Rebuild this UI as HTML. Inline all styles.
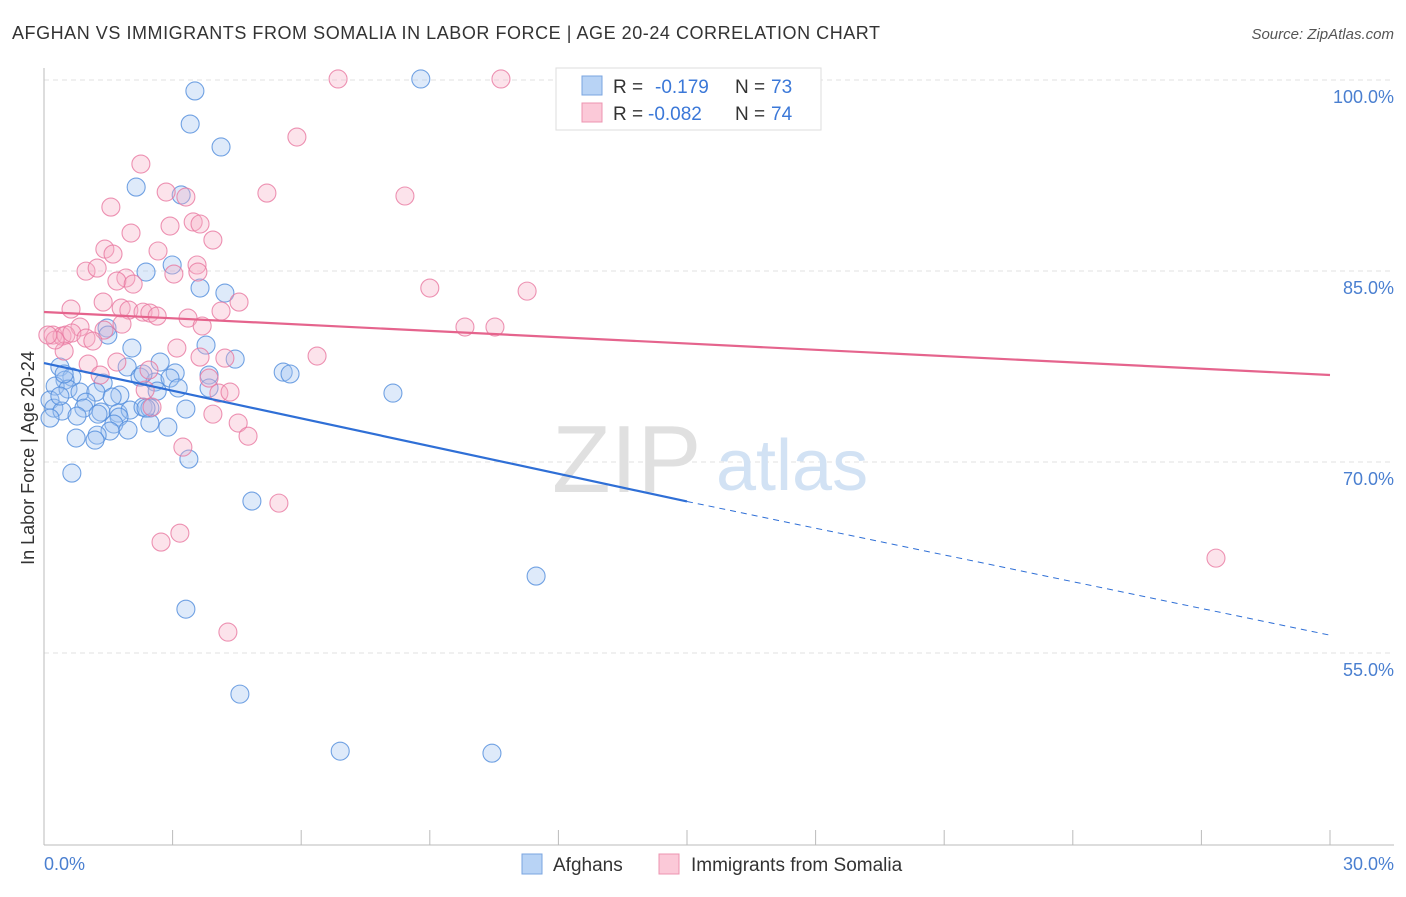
<!DOCTYPE html>
<html><head><meta charset="utf-8"><style>
body{margin:0;background:#fff;font-family:"Liberation Sans",sans-serif}
svg text{font-family:"Liberation Sans",sans-serif}
</style></head><body>
<svg id="chart" width="1406" height="892" viewBox="0 0 1406 892" xmlns="http://www.w3.org/2000/svg">
<text x="12" y="39" font-size="18" fill="#333" textLength="868">AFGHAN VS IMMIGRANTS FROM SOMALIA IN LABOR FORCE | AGE 20-24 CORRELATION CHART</text>
<text x="1394" y="39" font-size="15" fill="#555" text-anchor="end" font-style="italic">Source: ZipAtlas.com</text>
<g id="grid"></g>
<g>
<text x="552" y="492" font-size="96" font-family="Liberation Serif" fill="#e0e0e0">ZIP</text>
<text x="716" y="490" font-size="72" fill="#d2e2f4">atlas</text>
</g>
<line x1="44" y1="68" x2="44" y2="845" stroke="#bbb"/>
<line x1="44" y1="845" x2="1394" y2="845" stroke="#bbb"/>
<g id="ticks"></g>
<text transform="translate(34,458) rotate(-90)" font-size="18" fill="#333" text-anchor="middle">In Labor Force | Age 20-24</text>
<text x="44" y="870" font-size="18" fill="#4a7fd0">0.0%</text>
<text x="1394" y="870" font-size="18" fill="#4a7fd0" text-anchor="end">30.0%</text>
<g id="pts"></g>
<g id="lines"></g>
<g>
<rect x="556" y="68" width="265" height="62" fill="#fff" stroke="#ddd"/>
<rect x="582" y="76" width="20" height="19" fill="#b8d3f5" stroke="#7aa5e0"/>
<rect x="582" y="103" width="20" height="19" fill="#fbc9d8" stroke="#ec94b0"/>
<text x="613" y="93" font-size="19" fill="#333">R = </text><text x="655" y="93" font-size="19" fill="#3b78d8">-0.179</text>
<text x="735" y="93" font-size="19" fill="#333">N = </text><text x="771" y="93" font-size="19" fill="#3b78d8">73</text>
<text x="613" y="120" font-size="19" fill="#333">R = </text><text x="648" y="120" font-size="19" fill="#3b78d8">-0.082</text>
<text x="735" y="120" font-size="19" fill="#333">N = </text><text x="771" y="120" font-size="19" fill="#3b78d8">74</text>
</g>
<g>
<rect x="522" y="854" width="20" height="20" fill="#b8d3f5" stroke="#7aa5e0"/>
<text x="553" y="871" font-size="19" fill="#333">Afghans</text>
<rect x="659" y="854" width="20" height="20" fill="#fbc9d8" stroke="#ec94b0"/>
<text x="691" y="871" font-size="19" fill="#333">Immigrants from Somalia</text>
</g>
</svg>
<script>
const yTicks=[100,85,70,55];
const yTickLabels=["100.0%","85.0%","70.0%","55.0%"];
const xTicks=[3,6,9,12,15,18,21,24,27,30];
const afghanX=[3.52,3.41,4.13,2.15,3.20,2.99,2.38,3.64,4.22,1.47,1.49,3.78,2.05,4.46,2.71,0.37,1.94,3.06,3.85,5.58,5.74,0.65,0.49,1.38,2.24,2.59,2.94,0.26,0.56,0.84,1.21,1.77,2.64,3.13,3.85,8.14,0.14,0.98,1.59,0.23,0.42,0.93,1.33,1.73,2.01,2.31,2.47,0.77,1.26,1.75,0.14,2.47,2.89,1.63,1.96,1.54,1.24,0.75,1.19,3.38,0.65,4.85,11.48,3.31,4.57,6.91,10.45,8.79,0.47,0.37,2.31,2.38,3.31];
const afghanY=[99.14,96.54,94.74,91.59,90.97,85.47,84.92,83.66,83.27,80.52,79.97,79.18,78.95,78.08,77.85,77.46,77.46,76.99,76.83,77.06,76.91,76.67,76.43,76.20,76.67,76.28,76.59,75.96,75.73,75.49,75.49,75.26,75.57,75.81,75.81,75.41,74.86,74.70,75.10,74.23,74.00,74.23,73.92,73.84,74.08,74.31,74.23,73.61,73.76,73.53,73.45,73.06,72.74,72.98,72.51,72.43,72.11,71.88,71.72,70.23,69.13,66.93,61.04,58.44,51.77,47.29,47.13,100.08,76.91,75.18,76.91,74.23,74.16];
const somaliX=[6.86,10.66,5.90,2.26,2.85,5.20,3.31,8.42,1.56,3.48,3.64,2.94,2.03,3.94,1.42,2.66,1.61,0.98,1.24,3.57,3.59,3.03,1.91,1.70,2.08,9.00,11.27,1.38,4.55,0.63,1.80,1.98,2.31,2.47,2.64,4.13,3.36,3.69,9.82,10.52,0.84,1.82,1.40,0.21,0.42,0.51,0.65,0.98,1.14,0.47,1.70,3.10,6.37,4.22,1.03,2.45,1.31,3.85,2.36,4.08,2.52,3.94,4.53,4.76,3.24,5.48,3.17,2.73,4.29,27.34,0.26,0.09,4.34,3.64];
const somaliY=[100.08,100.08,95.52,93.40,91.20,91.12,90.81,90.89,90.02,88.85,88.69,88.53,87.98,87.43,86.72,86.57,86.33,84.99,85.23,85.47,84.92,84.76,84.45,84.21,83.97,83.66,83.42,82.56,82.56,82.01,82.09,81.93,81.77,81.70,81.46,81.85,81.30,80.68,80.60,80.60,80.60,80.83,80.36,79.97,79.89,79.97,80.13,79.73,79.50,78.71,77.85,78.95,78.32,78.16,77.69,77.22,76.83,76.59,75.65,75.41,74.31,73.76,73.06,72.03,71.17,66.77,64.41,63.71,56.64,62.45,79.58,79.97,75.49,78.24];
const afghanTrend=[77.77,66.9,56.4]; // at x=0, 15, 30
const somaliTrend=[81.78,76.83];     // at x=0, 30
const NS="http://www.w3.org/2000/svg";
const xS=v=>44+v/30*1286;
const yS=v=>80+(100-v)*12.733;
function mk(tag,attrs,parent){const e=document.createElementNS(NS,tag);for(const k in attrs)e.setAttribute(k,attrs[k]);parent.appendChild(e);return e;}
const grid=document.getElementById('grid');
yTicks.forEach((t,i)=>{
  const l=mk('line',{x1:44,x2:1394,y1:yS(t),y2:yS(t),stroke:'#e2e2e2','stroke-dasharray':'5,4'},grid);
  
  
  const tx=mk('text',{x:1394,y:yS(t)+23,'font-size':18,fill:'#4a7fd0','text-anchor':'end'},grid);
  tx.textContent=yTickLabels[i];
  
  
});
const tk=document.getElementById('ticks');
xTicks.forEach(t=>{
  const l=mk('line',{x1:xS(t),x2:xS(t),y1:830,y2:845,stroke:'#bbb'},tk);
  
  
});
const pts=document.getElementById('pts');
afghanX.forEach((x,i)=>{
  const c=mk('circle',{cx:xS(x),cy:yS(afghanY[i]),r:9,fill:'rgba(160,196,240,0.35)',stroke:'rgba(80,140,220,0.8)','stroke-width':1.1},pts);
  
  
});
somaliX.forEach((x,i)=>{
  const c=mk('circle',{cx:xS(x),cy:yS(somaliY[i]),r:9,fill:'rgba(245,175,198,0.35)',stroke:'rgba(232,120,160,0.8)','stroke-width':1.1},pts);
  
  
});
const ln=document.getElementById('lines');
const a=mk('line',{x1:xS(0),y1:yS(afghanTrend[0]),x2:xS(15),y2:yS(afghanTrend[1]),stroke:'#2f6fd6','stroke-width':2.2},ln);


const ad=mk('line',{x1:xS(15),y1:yS(afghanTrend[1]),x2:xS(30),y2:yS(afghanTrend[2]),stroke:'#2f6fd6','stroke-width':1,'stroke-dasharray':'6,5'},ln);


const s=mk('line',{x1:xS(0),y1:yS(somaliTrend[0]),x2:xS(30),y2:yS(somaliTrend[1]),stroke:'#e5648d','stroke-width':2.2},ln);


</script>
</body></html>
